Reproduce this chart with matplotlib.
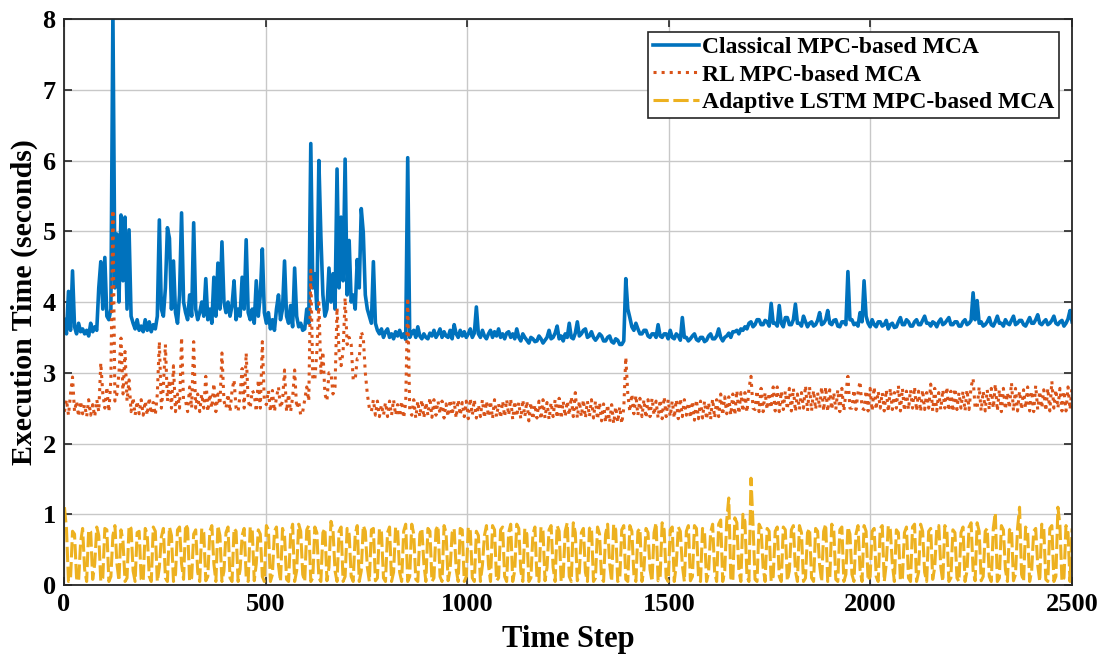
import numpy as np
import matplotlib
matplotlib.use('Agg')
import matplotlib.pyplot as plt

# execution time, one value every 5 time steps
classical_mpc = [
    3.75, 3.55, 4.15, 3.60, 4.44, 3.65, 3.55, 3.70, 3.58, 3.62, 3.55, 3.60, 3.52, 3.70, 3.58, 3.65, 3.60, 4.20, 4.57, 3.90,
    4.63, 3.80, 3.75, 3.90, 8.10, 4.20, 4.96, 4.00, 5.23, 4.30, 5.20, 3.90, 5.02, 3.80, 3.70, 3.62, 3.75, 3.60, 3.66, 3.58,
    3.75, 3.60, 3.72, 3.58, 3.68, 3.62, 3.80, 5.16, 3.90, 3.80, 4.20, 5.05, 4.90, 3.90, 4.58, 3.85, 3.70, 4.10, 5.26, 4.00,
    3.85, 3.75, 4.10, 3.80, 5.12, 3.90, 3.75, 3.85, 4.00, 3.80, 4.33, 3.75, 3.90, 3.70, 4.35, 3.80, 4.55, 3.90, 4.85, 4.00,
    3.85, 4.00, 3.80, 3.95, 4.30, 3.75, 3.90, 3.80, 4.35, 3.90, 4.88, 3.85, 3.75, 3.90, 3.70, 4.30, 3.80, 4.10, 4.75, 3.85,
    3.70, 3.85, 3.62, 3.75, 3.60, 3.90, 4.10, 3.75, 3.90, 4.58, 3.80, 3.70, 3.95, 3.65, 4.48, 3.80, 3.65, 3.70, 3.60, 3.62,
    3.90, 3.70, 6.24, 4.20, 4.40, 3.90, 6.00, 4.93, 4.10, 3.80, 3.90, 4.48, 4.00, 4.40, 3.90, 5.88, 4.20, 5.20, 4.30, 6.02,
    4.10, 4.87, 4.00, 4.10, 3.90, 4.60, 4.20, 5.32, 4.98, 4.10, 3.90, 3.80, 3.70, 4.57, 3.70, 3.60, 3.55, 3.62, 3.50, 3.58,
    3.62, 3.50, 3.55, 3.48, 3.58, 3.52, 3.60, 3.50, 3.55, 3.47, 6.04, 3.50, 3.56, 3.60, 3.50, 3.65, 3.52, 3.48, 3.55, 3.50,
    3.48, 3.56, 3.52, 3.60, 3.50, 3.55, 3.62, 3.50, 3.58, 3.52, 3.50, 3.60, 3.48, 3.68, 3.55, 3.50, 3.60, 3.52, 3.58, 3.50,
    3.55, 3.62, 3.50, 3.56, 3.93, 3.55, 3.50, 3.60, 3.52, 3.48, 3.55, 3.60, 3.50, 3.58, 3.52, 3.62, 3.50, 3.55, 3.48, 3.56,
    3.58, 3.50, 3.55, 3.48, 3.62, 3.50, 3.45, 3.55, 3.50, 3.46, 3.42, 3.50, 3.48, 3.44, 3.45, 3.52, 3.48, 3.42, 3.46, 3.50,
    3.60, 3.48, 3.50, 3.56, 3.66, 3.48, 3.52, 3.45, 3.55, 3.50, 3.70, 3.50, 3.48, 3.56, 3.72, 3.52, 3.55, 3.60, 3.62, 3.50,
    3.52, 3.58, 3.50, 3.46, 3.50, 3.55, 3.52, 3.45, 3.45, 3.50, 3.52, 3.44, 3.42, 3.48, 3.46, 3.40, 3.40, 3.45, 4.33, 3.90,
    3.78, 3.65, 3.60, 3.70, 3.62, 3.55, 3.55, 3.60, 3.60, 3.52, 3.50, 3.55, 3.55, 3.50, 3.68, 3.52, 3.50, 3.55, 3.55, 3.48,
    3.60, 3.50, 3.48, 3.55, 3.52, 3.46, 3.78, 3.50, 3.50, 3.45, 3.48, 3.52, 3.55, 3.47, 3.45, 3.50, 3.50, 3.44, 3.46, 3.52,
    3.55, 3.48, 3.48, 3.52, 3.62, 3.50, 3.45, 3.50, 3.52, 3.56, 3.50, 3.58, 3.58, 3.60, 3.55, 3.62, 3.60, 3.65, 3.62, 3.70,
    3.72, 3.65, 3.68, 3.75, 3.75, 3.68, 3.68, 3.74, 3.72, 3.66, 3.98, 3.70, 3.70, 3.66, 3.95, 3.70, 3.65, 3.78, 3.78, 3.68,
    3.68, 3.75, 3.97, 3.70, 3.70, 3.66, 3.80, 3.72, 3.65, 3.70, 3.72, 3.66, 3.68, 3.74, 3.85, 3.68, 3.70, 3.75, 3.88, 3.70,
    3.68, 3.74, 3.75, 3.66, 3.65, 3.72, 3.72, 3.68, 4.43, 3.75, 3.75, 3.68, 3.70, 3.66, 3.85, 3.72, 4.30, 3.80, 3.70, 3.65,
    3.75, 3.68, 3.65, 3.72, 3.72, 3.66, 3.68, 3.74, 3.62, 3.68, 3.70, 3.64, 3.65, 3.72, 3.78, 3.68, 3.68, 3.75, 3.72, 3.66,
    3.66, 3.72, 3.75, 3.68, 3.68, 3.74, 3.80, 3.70, 3.70, 3.66, 3.72, 3.70, 3.65, 3.72, 3.76, 3.68, 3.70, 3.74, 3.78, 3.68,
    3.68, 3.72, 3.72, 3.66, 3.66, 3.72, 3.75, 3.68, 3.70, 3.74, 4.13, 3.75, 4.02, 3.70, 3.72, 3.66, 3.68, 3.72, 3.78, 3.68,
    3.66, 3.72, 3.80, 3.70, 3.70, 3.66, 3.75, 3.70, 3.68, 3.74, 3.80, 3.68, 3.70, 3.74, 3.74, 3.68, 3.66, 3.72, 3.78, 3.70,
    3.70, 3.75, 3.82, 3.70, 3.68, 3.72, 3.75, 3.68, 3.70, 3.74, 3.80, 3.70, 3.68, 3.72, 3.74, 3.66, 3.70, 3.76, 3.88, 3.72,
]

rl_mpc = [
    2.45, 2.62, 2.40, 2.70, 2.94, 2.45, 2.60, 2.38, 2.60, 2.42, 2.55, 2.38, 2.62, 2.40, 2.55, 2.38, 2.62, 2.45, 3.14, 2.70,
    2.50, 2.80, 2.45, 2.90, 5.30, 2.60, 2.70, 3.00, 3.49, 2.70, 3.30, 2.60, 2.90, 2.45, 2.65, 2.40, 2.60, 2.42, 2.62, 2.40,
    2.60, 2.40, 2.65, 2.42, 2.58, 2.40, 2.70, 3.44, 2.50, 2.80, 3.40, 2.60, 2.90, 2.50, 3.10, 2.45, 2.70, 2.50, 3.50, 2.60,
    2.60, 2.45, 2.80, 2.50, 3.44, 2.50, 2.70, 2.45, 2.70, 2.50, 2.95, 2.45, 2.70, 2.50, 2.85, 2.45, 2.70, 2.55, 3.28, 2.60,
    2.50, 2.70, 2.45, 2.75, 2.90, 2.50, 2.45, 2.70, 3.06, 2.50, 3.28, 2.60, 2.50, 2.75, 2.70, 2.45, 2.90, 2.50, 3.44, 2.60,
    2.55, 2.75, 2.45, 2.75, 2.45, 2.65, 2.80, 2.50, 2.60, 3.04, 2.45, 2.70, 2.45, 2.65, 3.04, 2.50, 2.60, 2.40, 2.45, 2.62,
    2.80, 2.60, 4.45, 2.90, 2.90, 3.30, 3.99, 3.00, 3.30, 2.70, 2.60, 3.00, 3.00, 2.70, 2.80, 3.92, 3.30, 3.10, 3.30, 4.06,
    3.40, 3.50, 3.40, 2.90, 2.90, 3.20, 3.20, 3.58, 3.50, 3.00, 2.70, 2.50, 2.45, 2.62, 2.40, 2.60, 2.38, 2.55, 2.40, 2.58,
    2.38, 2.60, 2.40, 2.62, 2.40, 2.55, 2.38, 2.60, 2.36, 2.58, 4.06, 2.45, 2.40, 2.62, 2.36, 2.60, 2.38, 2.62, 2.36, 2.58,
    2.40, 2.65, 2.37, 2.62, 2.40, 2.60, 2.42, 2.60, 2.36, 2.56, 2.38, 2.62, 2.40, 2.60, 2.36, 2.62, 2.40, 2.58, 2.38, 2.60,
    2.35, 2.64, 2.40, 2.62, 2.36, 2.55, 2.38, 2.62, 2.36, 2.60, 2.38, 2.60, 2.35, 2.62, 2.38, 2.56, 2.36, 2.60, 2.38, 2.62,
    2.40, 2.63, 2.34, 2.60, 2.38, 2.58, 2.35, 2.62, 2.38, 2.60, 2.32, 2.58, 2.34, 2.55, 2.36, 2.60, 2.34, 2.62, 2.36, 2.58,
    2.34, 2.58, 2.38, 2.62, 2.36, 2.64, 2.35, 2.60, 2.38, 2.60, 2.40, 2.66, 2.38, 2.72, 2.36, 2.60, 2.38, 2.62, 2.36, 2.60,
    2.38, 2.62, 2.36, 2.60, 2.34, 2.58, 2.32, 2.56, 2.30, 2.55, 2.30, 2.55, 2.28, 2.52, 2.30, 2.52, 2.28, 2.50, 3.22, 2.70,
    2.45, 2.70, 2.42, 2.68, 2.40, 2.64, 2.38, 2.62, 2.36, 2.62, 2.38, 2.64, 2.40, 2.60, 2.36, 2.62, 2.35, 2.66, 2.38, 2.62,
    2.38, 2.60, 2.36, 2.62, 2.35, 2.64, 2.38, 2.62, 2.40, 2.58, 2.36, 2.60, 2.33, 2.62, 2.35, 2.60, 2.36, 2.60, 2.34, 2.58,
    2.34, 2.63, 2.36, 2.62, 2.38, 2.70, 2.40, 2.66, 2.42, 2.66, 2.40, 2.70, 2.40, 2.75, 2.42, 2.72, 2.45, 2.72, 2.44, 2.78,
    2.95, 2.50, 2.48, 2.75, 2.45, 2.78, 2.45, 2.72, 2.48, 2.72, 2.50, 2.80, 2.46, 2.80, 2.45, 2.74, 2.48, 2.74, 2.48, 2.78,
    2.46, 2.78, 2.45, 2.70, 2.48, 2.72, 2.50, 2.82, 2.46, 2.80, 2.46, 2.75, 2.48, 2.72, 2.50, 2.80, 2.46, 2.80, 2.45, 2.76,
    2.48, 2.72, 2.48, 2.76, 2.45, 2.78, 2.46, 2.72, 2.95, 2.50, 2.50, 2.76, 2.48, 2.72, 2.88, 2.50, 2.48, 2.75, 2.46, 2.78,
    2.46, 2.80, 2.48, 2.74, 2.50, 2.72, 2.46, 2.76, 2.45, 2.78, 2.48, 2.72, 2.50, 2.82, 2.46, 2.78, 2.46, 2.74, 2.48, 2.76,
    2.50, 2.80, 2.46, 2.74, 2.45, 2.76, 2.48, 2.72, 2.50, 2.84, 2.46, 2.78, 2.46, 2.72, 2.48, 2.76, 2.50, 2.80, 2.46, 2.74,
    2.45, 2.78, 2.48, 2.72, 2.50, 2.74, 2.46, 2.76, 2.48, 2.80, 2.92, 2.50, 2.50, 2.80, 2.46, 2.74, 2.46, 2.76, 2.48, 2.78,
    2.50, 2.84, 2.46, 2.76, 2.45, 2.78, 2.48, 2.72, 2.50, 2.86, 2.46, 2.78, 2.46, 2.74, 2.48, 2.76, 2.50, 2.80, 2.46, 2.74,
    2.45, 2.82, 2.48, 2.74, 2.50, 2.76, 2.46, 2.78, 2.46, 2.88, 2.50, 2.76, 2.50, 2.78, 2.46, 2.74, 2.46, 2.80, 2.48, 2.80,
]

lstm_mpc = [
    1.10, 0.80, 0.05, 0.08, 0.76, 0.72, 0.10, 0.05, 0.60, 0.80, 0.22, 0.05, 0.78, 0.75, 0.08, 0.30, 0.82, 0.70, 0.05, 0.10,
    0.80, 0.78, 0.05, 0.12, 0.70, 0.84, 0.30, 0.06, 0.78, 0.62, 0.05, 0.10, 0.84, 0.80, 0.20, 0.05, 0.74, 0.76, 0.08, 0.05,
    0.80, 0.72, 0.12, 0.05, 0.82, 0.76, 0.05, 0.25, 0.68, 0.80, 0.10, 0.05, 0.82, 0.70, 0.05, 0.15, 0.78, 0.82, 0.30, 0.08,
    0.86, 0.80, 0.05, 0.10, 0.72, 0.78, 0.18, 0.05, 0.80, 0.74, 0.06, 0.12, 0.76, 0.84, 0.30, 0.05, 0.84, 0.70, 0.05, 0.20,
    0.74, 0.82, 0.10, 0.05, 0.80, 0.76, 0.05, 0.22, 0.70, 0.80, 0.12, 0.05, 0.82, 0.78, 0.06, 0.30, 0.78, 0.72, 0.12, 0.05,
    0.84, 0.78, 0.05, 0.15, 0.76, 0.82, 0.28, 0.05, 0.80, 0.70, 0.08, 0.05, 0.72, 0.86, 0.05, 0.20, 0.86, 0.76, 0.15, 0.05,
    0.78, 0.84, 0.05, 0.10, 0.82, 0.74, 0.10, 0.05, 0.74, 0.80, 0.06, 0.25, 0.90, 0.78, 0.20, 0.05, 0.76, 0.82, 0.05, 0.12,
    0.80, 0.72, 0.12, 0.05, 0.72, 0.84, 0.05, 0.20, 0.84, 0.76, 0.25, 0.05, 0.78, 0.80, 0.06, 0.10, 0.80, 0.74, 0.10, 0.05,
    0.74, 0.82, 0.05, 0.18, 0.82, 0.78, 0.18, 0.05, 0.76, 0.86, 0.05, 0.12, 0.86, 0.72, 0.08, 0.05, 0.72, 0.80, 0.30, 0.05,
    0.80, 0.76, 0.05, 0.10, 0.78, 0.84, 0.12, 0.05, 0.84, 0.74, 0.06, 0.22, 0.74, 0.80, 0.22, 0.05, 0.80, 0.78, 0.05, 0.12,
    0.82, 0.76, 0.10, 0.05, 0.76, 0.70, 0.05, 0.28, 0.70, 0.84, 0.28, 0.05, 0.84, 0.78, 0.06, 0.10, 0.78, 0.82, 0.12, 0.05,
    0.74, 0.86, 0.05, 0.20, 0.86, 0.80, 0.20, 0.05, 0.80, 0.72, 0.05, 0.10, 0.72, 0.82, 0.10, 0.05, 0.82, 0.76, 0.06, 0.25,
    0.78, 0.84, 0.25, 0.05, 0.84, 0.76, 0.05, 0.12, 0.76, 0.88, 0.12, 0.05, 0.88, 0.74, 0.06, 0.18, 0.74, 0.80, 0.18, 0.05,
    0.80, 0.82, 0.05, 0.10, 0.82, 0.72, 0.10, 0.05, 0.72, 0.86, 0.30, 0.05, 0.86, 0.78, 0.05, 0.08, 0.78, 0.84, 0.08, 0.05,
    0.84, 0.76, 0.15, 0.05, 0.76, 0.80, 0.05, 0.22, 0.80, 0.74, 0.22, 0.05, 0.74, 0.88, 0.06, 0.10, 0.88, 0.78, 0.10, 0.05,
    0.78, 0.82, 0.05, 0.28, 0.82, 0.76, 0.28, 0.05, 0.76, 0.84, 0.06, 0.12, 0.84, 0.80, 0.12, 0.05, 0.80, 0.74, 0.05, 0.18,
    0.74, 0.86, 0.18, 0.05, 0.86, 0.92, 0.05, 0.20, 0.92, 1.23, 0.10, 0.05, 0.95, 0.88, 0.20, 0.05, 1.00, 0.90, 0.12, 0.05,
    1.51, 0.86, 0.08, 0.05, 0.86, 0.80, 0.25, 0.05, 0.80, 0.76, 0.05, 0.12, 0.76, 0.82, 0.12, 0.05, 0.82, 0.78, 0.06, 0.20,
    0.78, 0.84, 0.20, 0.05, 0.84, 0.74, 0.05, 0.10, 0.74, 0.80, 0.10, 0.05, 0.80, 0.76, 0.28, 0.05, 0.76, 0.86, 0.05, 0.08,
    0.86, 0.78, 0.08, 0.05, 0.78, 0.82, 0.05, 0.15, 0.82, 0.72, 0.15, 0.05, 0.72, 0.84, 0.22, 0.05, 0.84, 0.76, 0.06, 0.12,
    0.76, 0.80, 0.12, 0.05, 0.80, 0.84, 0.05, 0.30, 0.84, 0.78, 0.30, 0.05, 0.78, 0.74, 0.06, 0.10, 0.74, 0.82, 0.10, 0.05,
    0.82, 0.86, 0.05, 0.18, 0.86, 0.76, 0.18, 0.05, 0.76, 0.80, 0.08, 0.25, 0.80, 0.84, 0.25, 0.05, 0.84, 0.78, 0.05, 0.10,
    0.78, 0.74, 0.10, 0.05, 0.74, 0.82, 0.05, 0.20, 0.82, 0.88, 0.20, 0.06, 0.88, 0.76, 0.06, 0.12, 0.76, 0.80, 0.12, 0.05,
    0.80, 1.02, 0.05, 0.10, 0.84, 0.78, 0.22, 0.05, 0.78, 0.80, 0.06, 0.15, 0.80, 1.10, 0.15, 0.05, 0.82, 0.76, 0.05, 0.20,
    0.76, 0.80, 0.28, 0.05, 0.86, 0.80, 0.08, 0.05, 0.80, 0.84, 0.05, 0.12, 1.10, 0.84, 0.05, 0.10, 0.84, 0.74, 0.05, 0.80,
]

labels = ['Classical MPC-based MCA', 'RL MPC-based MCA', 'Adaptive LSTM MPC-based MCA']

plt.rcParams['font.family'] = ['Liberation Serif', 'DejaVu Serif']
plt.rcParams['font.weight'] = 'bold'

t = np.linspace(1, 2500, len(classical_mpc))

fig = plt.figure(figsize=(11.06, 6.67), dpi=100)
ax = fig.add_axes([0.0579, 0.1229, 0.9114, 0.8486])

ax.plot(t, classical_mpc, color='#0072BD', lw=2.6, label=labels[0])
ax.plot(t, rl_mpc, color='#D95319', lw=2.2, ls=':', label=labels[1])
ax.plot(t, lstm_mpc, color='#EDB120', lw=2.2, dashes=(5, 1.5), label=labels[2])

ax.set_xlim(0, 2500)
ax.set_ylim(0, 8)
ax.set_xticks([0, 500, 1000, 1500, 2000, 2500])
ax.set_yticks(range(0, 9))
ax.grid(True, color='#c8c8c8', lw=1.0)
ax.tick_params(direction='in', top=True, right=True, length=6, width=1.2,
               labelsize=19, colors='#262626', labelcolor='black', pad=6)
for lab in ax.get_xticklabels() + ax.get_yticklabels():
    lab.set_fontweight('bold')
for s in ax.spines.values():
    s.set_linewidth(1.3)
    s.set_color('#262626')

ax.set_xlabel('Time Step', fontsize=22, fontweight='bold', labelpad=6)
ax.set_ylabel('Execution Time (seconds)', fontsize=21.5, fontweight='bold', labelpad=3)

leg = ax.legend(loc='upper right', fontsize=17, frameon=True, fancybox=False,
                edgecolor='#262626', handlelength=1.95, handletextpad=0.15,
                labelspacing=0.25, borderpad=0.2, borderaxespad=0.55)
leg.get_frame().set_linewidth(1.2)
leg.get_frame().set_alpha(1)
for txt in leg.get_texts():
    txt.set_fontweight('bold')

fig.savefig('out.png', dpi=100)
